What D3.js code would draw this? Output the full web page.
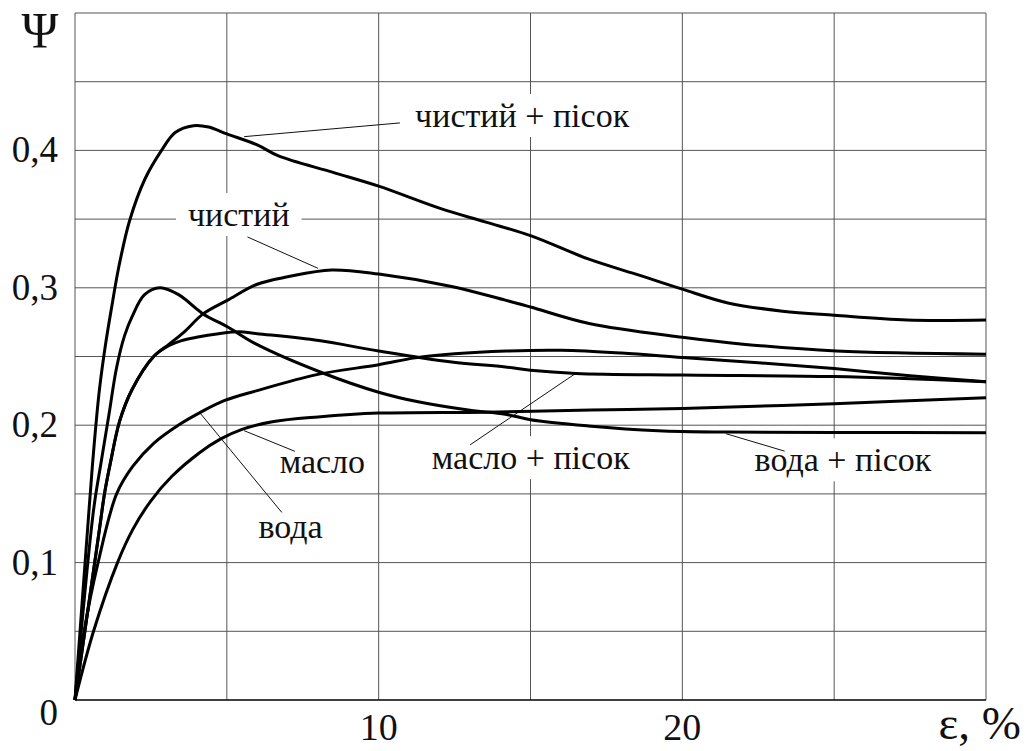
<!DOCTYPE html>
<html>
<head>
<meta charset="utf-8">
<script src="https://cdn.jsdelivr.net/npm/d3@7"></script>
</head>
<body style="margin:0;background:#fff">
<svg id="chart" width="1031" height="751"></svg>
<script>
// grid / tick values
var epsGrid = [0, 5, 10, 15, 20, 25, 30];
var epsLabels = [10, 20];
var psiGrid = d3.range(0, 0.501, 0.05);
var psiLabels = [0, 0.1, 0.2, 0.3, 0.4];

// series: [ε %, Ψ]
var cleanSand = [[0,0],[0.45,0.135],[0.62,0.183],[0.8,0.225],[1.0,0.258],[1.2,0.285],[1.45,0.316],
  [1.8,0.349],[2.3,0.379],[2.85,0.4],[3.3,0.413],[3.9,0.418],[4.4,0.417],[5.0,0.412],[6.0,0.404],
  [6.7,0.396],[8.5,0.384],[10,0.374],[12,0.358],[13.5,0.348],[15,0.338],[16.9,0.321],[18.6,0.309],
  [20,0.299],[21.5,0.289],[23.3,0.283],[25,0.28],[27.4,0.2765],[30,0.2765]];

var clean = [[0,0],[0.81,0.125],[0.97,0.15],[1.17,0.173],[1.47,0.203],[1.88,0.226],[2.59,0.25],
  [3.1,0.259],[3.6,0.268],[4.22,0.281],[5.03,0.291],[6.0,0.3026],[7.0,0.308],[8.45,0.313],[10,0.31],
  [12.4,0.301],[14.17,0.291],[15,0.286],[16.93,0.274],[20,0.264],[22,0.259],[25.07,0.254],[30,0.2517]];

var waterSand = [[0,0],[0.61,0.138],[0.86,0.173],[1.12,0.208],[1.37,0.242],[1.63,0.265],[1.88,0.279],
  [2.29,0.295],[2.8,0.3],[3.41,0.295],[4.22,0.281],[5.03,0.2715],[5.97,0.259],[8.16,0.238],[10,0.224],
  [11.3,0.217],[12.95,0.211],[14.17,0.208],[15,0.204],[16.9,0.1995],[19.2,0.196],[21.5,0.195],
  [25,0.1947],[30,0.1945]];

var oilSand = [[0,0],[0.81,0.125],[0.97,0.15],[1.17,0.173],[1.47,0.203],[1.88,0.226],[2.59,0.25],
  [3.1,0.258],[3.51,0.2616],[4.0,0.264],[4.73,0.2666],[5.4,0.268],[6.0,0.2666],[8.03,0.2616],[10,0.254],
  [12.4,0.246],[14.17,0.2424],[15,0.24],[16.5,0.2377],[20,0.2365],[25,0.2354],[30,0.2317]];

var water = [[0,0],[0.3,0.05],[0.76,0.1],[1.37,0.15],[1.9,0.17],[2.6,0.187],[3.4,0.2],[4.1,0.209],
  [4.93,0.218],[5.97,0.225],[8.0,0.237],[10,0.244],[11.2,0.249],[12.5,0.252],[14.2,0.254],[16,0.2545],
  [18,0.2525],[20,0.2493],[22.5,0.2455],[25,0.2412],[27.5,0.236],[30,0.2317]];

var oil = [[0,0],[0.61,0.05],[1.4,0.1],[1.9,0.124],[2.5,0.145],[3.2,0.163],[4.1,0.18],[4.8,0.19],
  [5.5,0.197],[6.5,0.2025],[8,0.206],[10,0.2088],[13.5,0.2095],[17,0.211],[20,0.2122],[25,0.2157],
  [30,0.2199]];

var seriesList = [cleanSand, clean, waterSand, oilSand, water, oil];

// labels with leader lines (data units)
var labels = [
  { text: 'чистий + пісок', at: [11.2, 0.417], from: [10.7, 0.42], to: [5.57, 0.41] },
  { text: 'чистий', at: [3.72, 0.345], from: [5.68, 0.337], to: [8.0, 0.3142] },
  { text: 'масло', at: [6.74, 0.165], from: [7.24, 0.181], to: [5.57, 0.196] },
  { text: 'вода', at: [6.04, 0.118], from: [6.81, 0.1365], to: [4.12, 0.2088] },
  { text: 'масло + пісок', at: [11.75, 0.168], from: [13.01, 0.1857], to: [16.52, 0.2382] },
  { text: 'вода + пісок', at: [22.38, 0.1664], from: [23.37, 0.1811], to: [21.44, 0.1938] }
];

var serif = '"Liberation Serif"';

var svg = d3.select('#chart');

var x = d3.scaleLinear().domain([0, 30]).range([75, 986]);
var y = d3.scaleLinear().domain([0, 0.5]).range([700, 13]);

// grid
var grid = svg.append('g').attr('class', 'grid');

grid.selectAll('.vline')
  .data(epsGrid)
  .enter()
  .append('line')
  .attr('x1', function(d) { return x(d); })
  .attr('x2', function(d) { return x(d); })
  .attr('y1', y(0.5))
  .attr('y2', y(0))
  .attr('stroke', function(d) { return d === 30 ? '#aaa' : '#555'; })
  .attr('stroke-width', function(d) { return d === 30 ? 2 : 1; });

grid.selectAll('.hline')
  .data(psiGrid)
  .enter()
  .append('line')
  .attr('x1', x(0))
  .attr('x2', x(30))
  .attr('y1', function(d) { return y(d); })
  .attr('y2', function(d) { return y(d); })
  .attr('stroke', function(d) { return d === 0 ? '#000' : '#555'; })
  .attr('stroke-width', function(d) { return d === 0 ? 1.5 : 1; });

// tick labels
svg.selectAll('.ylab')
  .data(psiLabels)
  .enter()
  .append('text')
  .attr('x', 58)
  .attr('y', function(d) { return d === 0 ? y(0) + 25 : y(d) + 12; })
  .attr('text-anchor', 'end')
  .style('font-family', serif)
  .style('font-size', '37px')
  .style('fill', '#111')
  .text(function(d) { return d === 0 ? '0' : d3.format('.1f')(d).replace('.', ','); });

svg.selectAll('.xlab')
  .data(epsLabels)
  .enter()
  .append('text')
  .attr('x', function(d) { return x(d); })
  .attr('y', 740)
  .attr('text-anchor', 'middle')
  .style('font-family', serif)
  .style('font-size', '38px')
  .style('fill', '#111')
  .text(function(d) { return d; });

svg.append('text')
  .attr('x', 40)
  .attr('y', 47)
  .attr('text-anchor', 'middle')
  .style('font-family', serif)
  .style('font-size', '50px')
  .style('fill', '#111')
  .text('Ψ');

svg.append('text')
  .attr('x', 1021)
  .attr('y', 739)
  .attr('text-anchor', 'end')
  .style('font-family', serif)
  .style('font-size', '47px')
  .style('fill', '#111')
  .text('ε, %');

// label boxes (white, break the grid)
var lab = svg.append('g').attr('class', 'labels');
labels.forEach(function(l) {
  var t = lab.append('text')
    .attr('x', x(l.at[0]))
    .attr('y', y(l.at[1]))
    .style('font-family', serif)
    .style('font-size', '34px')
    .style('fill', '#111')
    .text(l.text);
  var b = t.node().getBBox();
  lab.insert('rect', 'text')
    .attr('x', b.x - 12)
    .attr('y', b.y - 3)
    .attr('width', b.width + 24)
    .attr('height', b.height + 6)
    .attr('fill', '#fff');
});

// leader lines
svg.selectAll('.leader')
  .data(labels)
  .enter()
  .append('line')
  .attr('x1', function(d) { return x(d.from[0]); })
  .attr('y1', function(d) { return y(d.from[1]); })
  .attr('x2', function(d) { return x(d.to[0]); })
  .attr('y2', function(d) { return y(d.to[1]); })
  .attr('stroke', '#111')
  .attr('stroke-width', 1);

// curves
var line = d3.line()
  .x(function(d) { return x(d[0]); })
  .y(function(d) { return y(d[1]); })
  .curve(d3.curveCatmullRom.alpha(0.5));

svg.selectAll('.curve')
  .data(seriesList)
  .enter()
  .append('path')
  .attr('d', line)
  .attr('fill', 'none')
  .attr('stroke', '#000')
  .attr('stroke-width', 3)
  .attr('stroke-linejoin', 'round');
</script>
</body>
</html>
